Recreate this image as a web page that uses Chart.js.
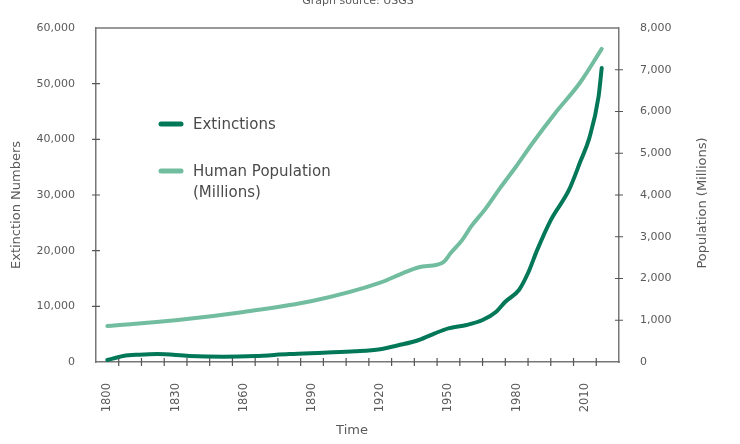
<!DOCTYPE html>
<html>
<head>
<meta charset="utf-8">
<script src="https://cdn.jsdelivr.net/npm/chart.js@4"></script>
<style>
  html, body { margin: 0; padding: 0; background: #fff; }
  #wrap { width: 740px; height: 444px; }
</style>
</head>
<body>
<div id="wrap"><canvas id="myChart"></canvas></div>
<script>
const ctx = document.querySelector("#myChart")

// extinctions (left axis)
const extYears = [1800, 1807, 1814, 1822, 1836, 1851, 1865, 1880, 1895, 1909, 1920, 1928, 1937, 1944, 1950, 1958, 1965, 1971, 1975, 1981, 1985, 1989, 1995, 2003, 2008, 2012, 2016, 2017.4];
const extinctions = [360, 1080, 1320, 1440, 1080, 960, 1080, 1440, 1680, 1920, 2300, 3000, 3950, 5150, 6050, 6650, 7540, 9040, 10830, 12930, 15980, 20100, 25500, 30900, 36000, 40300, 47650, 52800];

// human population in millions (right axis)
const popYears = [1800, 1830, 1860, 1890, 1920, 1930, 1937, 1945, 1948, 1951, 1956, 1960, 1966, 1973, 1980, 1987, 1997, 2008, 2017.4];
const population = [860, 1000, 1200, 1460, 1900, 2130, 2270, 2330, 2400, 2610, 2920, 3250, 3650, 4190, 4700, 5245, 5964, 6700, 7500];

const yearLabels = [1800, 1830, 1860, 1890, 1920, 1950, 1980, 2010];
const yearTicks = [1805, 1815, 1825, 1835, 1845, 1855, 1865, 1875, 1885, 1895, 1905, 1915, 1925, 1935, 1945, 1955, 1965, 1975, 1985, 1995, 2005, 2015];

const darkGreen = '#037858';
const lightGreen = '#72bd9f';
const textColor = '#5a5a5a';
const axisColor = '#777777';
const fontFamily = "'DejaVu Sans', sans-serif";

const extras = {
  id: 'extras',
  afterDraw(chart) {
    const c = chart.ctx;
    const area = chart.chartArea;
    const sx = chart.scales.x, sy = chart.scales.y, sy2 = chart.scales.y2;
    c.save();
    c.strokeStyle = axisColor;
    c.lineWidth = 1.5;
    // top border of the box
    c.beginPath();
    c.moveTo(area.left, area.top);
    c.lineTo(area.right, area.top);
    c.stroke();
    // cross ticks
    c.lineWidth = 1.2;
    c.strokeStyle = '#555';
    c.beginPath();
    sy.ticks.forEach(t => {
      if (t.value >= sy.max || t.value <= 0) return;
      const p = sy.getPixelForValue(t.value);
      c.moveTo(area.left - 4, p); c.lineTo(area.left + 4, p);
    });
    sy2.ticks.forEach(t => {
      if (t.value >= sy2.max || t.value <= 0) return;
      const p = sy2.getPixelForValue(t.value);
      c.moveTo(area.right - 4, p); c.lineTo(area.right + 4, p);
    });
    yearTicks.forEach(v => {
      const p = sx.getPixelForValue(v);
      c.moveTo(p, area.bottom - 4); c.lineTo(p, area.bottom + 4);
    });
    c.stroke();

    // titles
    c.fillStyle = textColor;
    c.textAlign = 'center';
    c.textBaseline = 'middle';
    c.font = "13px " + fontFamily;
    c.fillText('Time', 352, 431);
    c.save();
    c.translate(17, 205);
    c.rotate(-Math.PI / 2);
    c.fillText('Extinction Numbers', 0, 0);
    c.restore();
    c.save();
    c.translate(703, 203);
    c.rotate(-Math.PI / 2);
    c.fillText('Population (Millions)', 0, 0);
    c.restore();
    c.font = "11px " + fontFamily;
    c.textBaseline = 'alphabetic';
    c.fillText('Graph source: USGS', 358, 4);

    // legend
    c.lineCap = 'round';
    c.lineWidth = 5;
    c.strokeStyle = darkGreen;
    c.beginPath(); c.moveTo(161, 124); c.lineTo(181, 124); c.stroke();
    c.strokeStyle = lightGreen;
    c.beginPath(); c.moveTo(161, 171); c.lineTo(181, 171); c.stroke();
    c.font = "15px " + fontFamily;
    c.fillStyle = '#4a4a4a';
    c.textAlign = 'left';
    c.textBaseline = 'middle';
    c.fillText(chart.data.datasets[0].label, 193, 125);
    c.fillText('Human Population', 193, 172);
    c.fillText('(Millions)', 193, 193);
    c.restore();
  }
};

const data = {
  datasets: [{
    label: 'Extinctions',
    data: extYears.map((x, i) => ({x: x, y: extinctions[i]})),
    borderColor: darkGreen,
    borderWidth: 4,
    yAxisID: 'y',
  }, {
    label: 'Human Population (Millions)',
    data: popYears.map((x, i) => ({x: x, y: population[i]})),
    borderColor: lightGreen,
    borderWidth: 4,
    yAxisID: 'y2',
  }]
};

const config = {
  type: 'line',
  data: data,
  options: {
    responsive: true,
    maintainAspectRatio: false,
    animation: false,
    layout: { padding: { top: 28 } },
    elements: {
      point: { radius: 0 },
      line: { cubicInterpolationMode: 'monotone', borderCapStyle: 'round' }
    },
    plugins: {
      legend: { display: false },
      tooltip: { enabled: false }
    },
    scales: {
      x: {
        type: 'linear',
        min: 1795,
        max: 2025,
        afterBuildTicks: s => { s.ticks = yearLabels.map(v => ({value: v})); },
        afterFit: s => { s.height = 82; },
        grid: { display: false },
        border: { color: axisColor, width: 1.5 },
        ticks: {
          minRotation: 90,
          maxRotation: 90,
          padding: 13,
          color: textColor,
          font: { family: fontFamily, size: 11.5 },
          callback: v => String(v)
        }
      },
      y: {
        position: 'left',
        min: 0,
        max: 60000,
        afterFit: s => { s.width = 96; },
        grid: { display: false },
        border: { color: axisColor, width: 1.5 },
        ticks: {
          stepSize: 10000,
          padding: 13,
          color: textColor,
          font: { family: fontFamily, size: 11 }
        }
      },
      y2: {
        position: 'right',
        min: 0,
        max: 8000,
        afterFit: s => { s.width = 121; },
        grid: { display: false },
        border: { color: axisColor, width: 1.5 },
        ticks: {
          stepSize: 1000,
          padding: 13,
          color: textColor,
          font: { family: fontFamily, size: 11 }
        }
      }
    }
  },
  plugins: [extras]
};

new Chart(ctx, config)
</script>
</body>
</html>
